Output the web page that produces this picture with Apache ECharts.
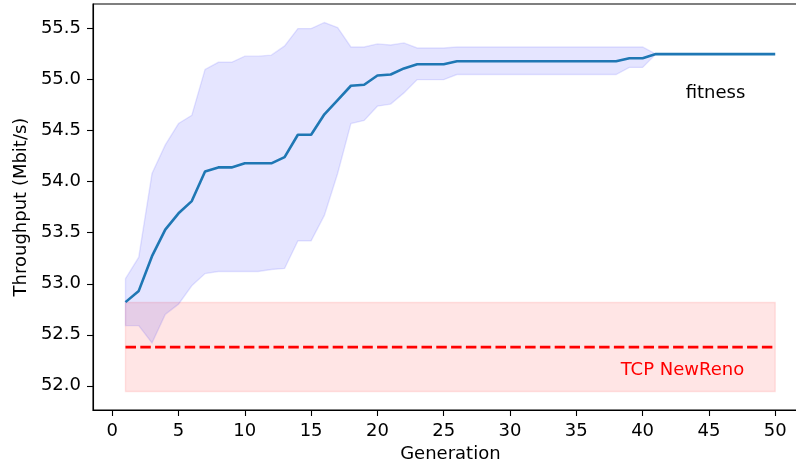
<!DOCTYPE html>
<html>
<head>
<meta charset="utf-8">
<script src="https://cdn.jsdelivr.net/npm/echarts@6/dist/echarts.min.js"></script>
<style>
  html, body { margin: 0; padding: 0; background: #fff; }
  #main { width: 796px; height: 467px; }
</style>
</head>
<body>
<div id="main"></div>
<script>
// generations 1..50
var generations = [];
for (var g = 1; g <= 50; g++) generations.push(g);

// best fitness (mean) and its spread
var fitnessMean = [52.82, 52.93, 53.27, 53.53, 53.69, 53.81, 54.10, 54.14, 54.14, 54.18,
  54.18, 54.18, 54.24, 54.46, 54.46, 54.66, 54.80, 54.94, 54.95, 55.04,
  55.05, 55.11, 55.15, 55.15, 55.15, 55.18, 55.18, 55.18, 55.18, 55.18,
  55.18, 55.18, 55.18, 55.18, 55.18, 55.18, 55.18, 55.18, 55.21, 55.21,
  55.25, 55.25, 55.25, 55.25, 55.25, 55.25, 55.25, 55.25, 55.25, 55.25];
var fitnessUpper = [53.05, 53.26, 54.08, 54.36, 54.57, 54.65, 55.10, 55.17, 55.17, 55.23,
  55.23, 55.24, 55.33, 55.50, 55.50, 55.56, 55.51, 55.32, 55.32, 55.35,
  55.34, 55.36, 55.31, 55.31, 55.31, 55.32, 55.32, 55.32, 55.32, 55.32,
  55.32, 55.32, 55.32, 55.32, 55.32, 55.32, 55.32, 55.32, 55.32, 55.32,
  55.25, 55.25, 55.25, 55.25, 55.25, 55.25, 55.25, 55.25, 55.25, 55.25];
var fitnessLower = [52.59, 52.59, 52.42, 52.70, 52.80, 52.98, 53.10, 53.12, 53.12, 53.12,
  53.12, 53.14, 53.15, 53.42, 53.42, 53.67, 54.08, 54.57, 54.60, 54.74,
  54.76, 54.87, 55.00, 55.00, 55.00, 55.05, 55.05, 55.05, 55.05, 55.05,
  55.05, 55.05, 55.05, 55.05, 55.05, 55.05, 55.05, 55.05, 55.12, 55.12,
  55.25, 55.25, 55.25, 55.25, 55.25, 55.25, 55.25, 55.25, 55.25, 55.25];

// TCP NewReno baseline
var newRenoMean = 52.38;
var newRenoLow = 51.944;
var newRenoHigh = 52.817;

var xTicks = [0, 5, 10, 15, 20, 25, 30, 35, 40, 45, 50];
var yTicks = [52.0, 52.5, 53.0, 53.5, 54.0, 54.5, 55.0, 55.5];

var font = 'DejaVu Sans';

var pairs = function (ys) {
  return generations.map(function (x, i) { return [x, ys[i]]; });
};

// fill_between style polygon: upper edge forward, lower edge back
function bandItem(params, api) {
  if (params.dataIndex !== 0) return null;
  var pts = [];
  for (var i = 0; i < generations.length; i++) {
    pts.push(api.coord([generations[i], fitnessUpper[i]]));
  }
  for (var j = generations.length - 1; j >= 0; j--) {
    pts.push(api.coord([generations[j], fitnessLower[j]]));
  }
  return {
    type: 'polygon',
    shape: { points: pts },
    style: { fill: 'rgba(0,0,255,0.1)', stroke: 'rgba(0,0,255,0.1)', lineWidth: 1.4 }
  };
}

var myChart = echarts.init(document.getElementById('main'), null, { renderer: 'canvas' });
var option = {
  animation: false,
  backgroundColor: '#fff',
  grid: {
    left: 93, top: 4, width: 714.7, height: 406,
    outerBoundsMode: 'none',
    show: true, borderColor: '#000', borderWidth: 1.1
  },
  xAxis: {
    type: 'value',
    min: -1.45, max: 52.45,
    name: 'Generation',
    nameLocation: 'middle',
    nameGap: 35,
    nameTextStyle: { fontFamily: font, fontSize: 18, color: '#000' },
    axisLine: { show: true, onZero: false, lineStyle: { color: '#000', width: 1.1 } },
    axisTick: { show: true, length: 6, lineStyle: { color: '#000', width: 1.1 }, customValues: xTicks },
    axisLabel: { fontFamily: font, fontSize: 18, color: '#000', margin: 12, customValues: xTicks },
    splitLine: { show: false }
  },
  yAxis: {
    type: 'value',
    min: 51.763, max: 55.741,
    name: 'Throughput (Mbit/s)',
    nameLocation: 'middle',
    nameGap: 60,
    nameTextStyle: { fontFamily: font, fontSize: 18, color: '#000' },
    axisLine: { show: true, onZero: false, lineStyle: { color: '#000', width: 1.1 } },
    axisTick: { show: true, length: 6, lineStyle: { color: '#000', width: 1.1 }, customValues: yTicks },
    axisLabel: {
      fontFamily: font, fontSize: 18, color: '#000', margin: 12, customValues: yTicks,
      formatter: function (v) { return v.toFixed(1); }
    },
    splitLine: { show: false }
  },
  series: [
    {
      name: 'spread',
      type: 'custom',
      renderItem: bandItem,
      data: pairs(fitnessUpper),
      encode: { x: 0, y: 1 },
      silent: true
    },
    {
      name: 'TCP NewReno',
      type: 'line',
      data: pairs(generations.map(function () { return newRenoMean; })),
      symbol: 'none',
      lineStyle: { color: '#ff0000', width: 2.8, type: [10.5, 4.3] },
      markArea: {
        silent: true,
        itemStyle: { color: 'rgba(255,0,0,0.1)', borderColor: 'rgba(255,0,0,0.1)', borderWidth: 1.4 },
        data: [[{ coord: [generations[0], newRenoLow] }, { coord: [generations[generations.length - 1], newRenoHigh] }]]
      },
      markPoint: {
        silent: true, symbol: 'circle', symbolSize: 0,
        label: { show: true, position: 'inside', formatter: '{b}', fontFamily: font, fontSize: 18, color: '#ff0000' },
        data: [{ name: 'TCP NewReno', coord: [43, 52.15] }]
      }
    },
    {
      name: 'fitness',
      type: 'line',
      data: pairs(fitnessMean),
      symbol: 'none',
      lineStyle: { color: '#1f77b4', width: 2.6 },
      markPoint: {
        silent: true, symbol: 'circle', symbolSize: 0,
        label: { show: true, position: 'inside', formatter: '{b}', fontFamily: font, fontSize: 18, color: '#000' },
        data: [{ name: 'fitness', coord: [45.5, 54.87] }]
      }
    }
  ]
};
myChart.setOption(option);
</script>
</body>
</html>
